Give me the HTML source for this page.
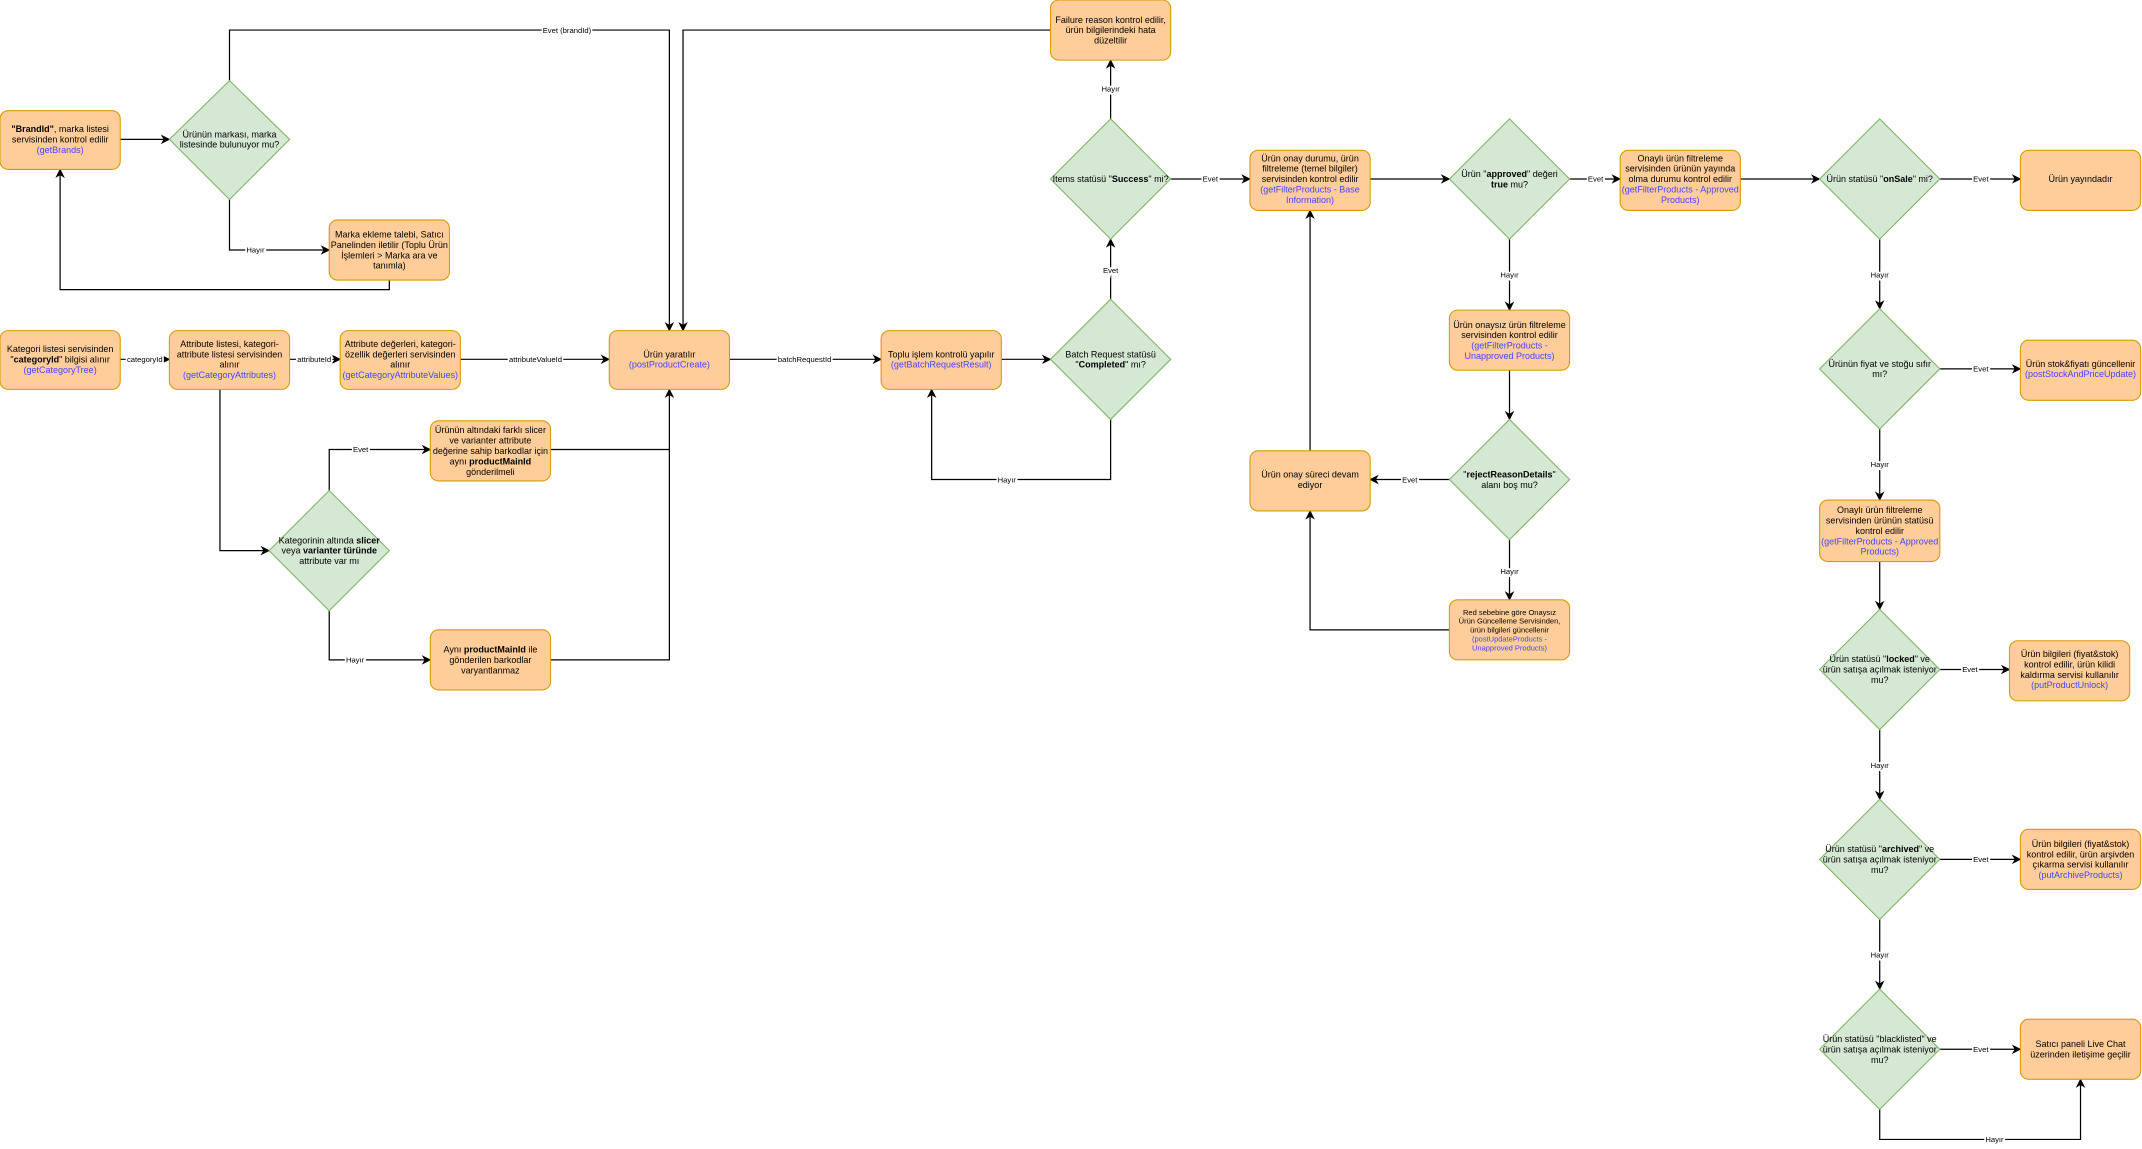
<!DOCTYPE html>
<html><head><meta charset="utf-8"><style>
html,body{margin:0;padding:0;background:#fff;width:2142px;height:1149px;overflow:hidden}
svg{display:block}
text{font-family:"Liberation Sans",sans-serif;font-size:6.6px;fill:#000;text-anchor:middle}
.b{fill:#4444ff}
.lb{font-size:5.6px;stroke:#fff;stroke-width:2.5px;paint-order:stroke}
.box{fill:#ffcd9a;stroke:#d79b00;stroke-width:0.8}
.dia{fill:#d5e8d4;stroke:#82b366;stroke-width:0.8}
.e{fill:none;stroke:#000;stroke-width:0.9;marker-end:url(#a)}
.n{fill:none;stroke:#000;stroke-width:0.9}
.s{font-size:5.5px}
</style></head><body>
<svg width="2142" height="1149" viewBox="0 0 1568 841" preserveAspectRatio="none">
<defs><marker id="a" viewBox="0 0 10 10" refX="9" refY="5" markerWidth="7" markerHeight="7" orient="auto" markerUnits="userSpaceOnUse"><path d="M0,0 L10,5 L0,10 L3,5 z" fill="#000"/></marker></defs>

<!-- edges -->
<path class="e" d="M88,102 H124"/>
<path class="e" d="M168,59 V22 H490 V242"/>
<path class="e" d="M769,22 H500 V242"/>
<path class="e" d="M168,146 V183 H241"/>
<path class="e" d="M285,205 V212 H44 V124"/>
<path class="e" d="M88,263 H124"/>
<path class="e" d="M212,263 H249"/>
<path class="e" d="M337,263 H446"/>
<path class="e" d="M161,285 V403 H197"/>
<path class="e" d="M241,359 V329 H315"/>
<path class="e" d="M241,447 V483 H315"/>
<path class="n" d="M403,329 H490"/>
<path class="e" d="M403,483 H490 V285"/>
<path class="e" d="M534,263 H645"/>
<path class="e" d="M733,263 H769"/>
<path class="e" d="M813,307 V351 H682 V285"/>
<path class="e" d="M813,219 V175"/>
<path class="e" d="M813,87 V44"/>
<path class="e" d="M857,131 H915"/>
<path class="e" d="M1003,131 H1061"/>
<path class="e" d="M1149,131 H1186"/>
<path class="e" d="M1274,131 H1332"/>
<path class="e" d="M1420,131 H1479"/>
<path class="e" d="M1105,175 V227"/>
<path class="e" d="M1105,271 V307"/>
<path class="e" d="M1061,351 H1003"/>
<path class="e" d="M1105,395 V439"/>
<path class="e" d="M1061,461 H959 V374"/>
<path class="e" d="M959,330 V154"/>
<path class="e" d="M1376,175 V226"/>
<path class="e" d="M1420,270 H1479"/>
<path class="e" d="M1376,314 V366"/>
<path class="e" d="M1376,411 V446"/>
<path class="e" d="M1420,490 H1471"/>
<path class="e" d="M1376,534 V585"/>
<path class="e" d="M1420,629 H1479"/>
<path class="e" d="M1376,673 V724"/>
<path class="e" d="M1420,768 H1479"/>
<path class="e" d="M1376,812 V834 H1523 V790"/>

<!-- edge labels -->
<text class="lb" x="415" y="24">Evet  (brandId)</text>
<text class="lb" x="187" y="185">Hayır</text>
<text class="lb" x="106" y="265">categoryId</text>
<text class="lb" x="230" y="265">attributeId</text>
<text class="lb" x="392" y="265">attributeValueId</text>
<text class="lb" x="264" y="331">Evet</text>
<text class="lb" x="260" y="485">Hayır</text>
<text class="lb" x="589" y="265">batchRequestId</text>
<text class="lb" x="737" y="353">Hayır</text>
<text class="lb" x="813" y="200">Evet</text>
<text class="lb" x="813" y="67">Hayır</text>
<text class="lb" x="886" y="133">Evet</text>
<text class="lb" x="1168" y="133">Evet</text>
<text class="lb" x="1450" y="133">Evet</text>
<text class="lb" x="1105" y="203">Hayır</text>
<text class="lb" x="1032" y="353">Evet</text>
<text class="lb" x="1105" y="420">Hayır</text>
<text class="lb" x="1376" y="203">Hayır</text>
<text class="lb" x="1450" y="272">Evet</text>
<text class="lb" x="1376" y="342">Hayır</text>
<text class="lb" x="1442" y="492">Evet</text>
<text class="lb" x="1376" y="562">Hayır</text>
<text class="lb" x="1450" y="631">Evet</text>
<text class="lb" x="1376" y="701">Hayır</text>
<text class="lb" x="1450" y="770">Evet</text>
<text class="lb" x="1460" y="836">Hayır</text>

<!-- boxes -->
<rect class="box" x="0" y="81" width="88" height="43" rx="6"/>
<rect class="box" x="241" y="161" width="88" height="44" rx="6"/>
<rect class="box" x="0" y="242" width="88" height="43" rx="6"/>
<rect class="box" x="124" y="242" width="88" height="43" rx="6"/>
<rect class="box" x="249" y="242" width="88" height="43" rx="6"/>
<rect class="box" x="446" y="242" width="88" height="43" rx="6"/>
<rect class="box" x="315" y="308" width="88" height="44" rx="6"/>
<rect class="box" x="315" y="461" width="88" height="44" rx="6"/>
<rect class="box" x="645" y="242" width="88" height="43" rx="6"/>
<rect class="box" x="769" y="0" width="88" height="44" rx="6"/>
<rect class="box" x="915" y="110" width="88" height="44" rx="6"/>
<rect class="box" x="1186" y="110" width="88" height="44" rx="6"/>
<rect class="box" x="1479" y="110" width="88" height="44" rx="6"/>
<rect class="box" x="1061" y="227" width="88" height="44" rx="6"/>
<rect class="box" x="915" y="330" width="88" height="44" rx="6"/>
<rect class="box" x="1061" y="439" width="88" height="44" rx="6"/>
<rect class="box" x="1479" y="249" width="88" height="44" rx="6"/>
<rect class="box" x="1332" y="366" width="88" height="45" rx="6"/>
<rect class="box" x="1471" y="469" width="88" height="44" rx="6"/>
<rect class="box" x="1479" y="607" width="88" height="44" rx="6"/>
<rect class="box" x="1479" y="746" width="88" height="44" rx="6"/>

<!-- diamonds -->
<polygon class="dia" points="168,59 212,102 168,146 124,102"/>
<polygon class="dia" points="241,359 285,403 241,447 197,403"/>
<polygon class="dia" points="813,219 857,263 813,307 769,263"/>
<polygon class="dia" points="813,87 857,131 813,175 769,131"/>
<polygon class="dia" points="1105,87 1149,131 1105,175 1061,131"/>
<polygon class="dia" points="1376,87 1420,131 1376,175 1332,131"/>
<polygon class="dia" points="1105,307 1149,351 1105,395 1061,351"/>
<polygon class="dia" points="1376,226 1420,270 1376,314 1332,270"/>
<polygon class="dia" points="1376,446 1420,490 1376,534 1332,490"/>
<polygon class="dia" points="1376,585 1420,629 1376,673 1332,629"/>
<polygon class="dia" points="1376,724 1420,768 1376,812 1332,768"/>

<!-- node text -->
<text x="44" y="96.7"><tspan font-weight="bold">"BrandId"</tspan>, marka listesi</text>
<text x="44" y="104.3">servisinden kontrol edilir</text>
<text x="44" y="111.9" class="b">(getBrands)</text>

<text x="168" y="100.5">Ürünün markası, marka</text>
<text x="168" y="108.1">listesinde bulunuyor mu?</text>

<text x="285" y="173.9">Marka ekleme talebi, Satıcı</text>
<text x="285" y="181.5">Panelinden iletilir (Toplu Ürün</text>
<text x="285" y="189.1">İşlemleri &gt; Marka ara ve</text>
<text x="285" y="196.7">tanımla)</text>

<text x="44" y="257.7">Kategori listesi servisinden</text>
<text x="44" y="265.3">"<tspan font-weight="bold">categoryId</tspan>" bilgisi alınır</text>
<text x="44" y="272.9" class="b">(getCategoryTree)</text>

<text x="168" y="253.9">Attribute listesi, kategori-</text>
<text x="168" y="261.5">attribute listesi servisinden</text>
<text x="168" y="269.1">alınır</text>
<text x="168" y="276.7" class="b">(getCategoryAttributes)</text>

<text x="293" y="253.9">Attribute değerleri, kategori-</text>
<text x="293" y="261.5">özellik değerleri servisinden</text>
<text x="293" y="269.1">alınır</text>
<text x="293" y="276.7" class="b">(getCategoryAttributeValues)</text>

<text x="490" y="261.5">Ürün yaratılır</text>
<text x="490" y="269.1" class="b">(postProductCreate)</text>

<text x="359" y="317.1">Ürünün altındaki farklı slicer</text>
<text x="359" y="324.7">ve varianter attribute</text>
<text x="359" y="332.3">değerine sahip barkodlar için</text>
<text x="359" y="339.9">aynı <tspan font-weight="bold">productMainId</tspan></text>
<text x="359" y="347.5">gönderilmeli</text>

<text x="241" y="397.7">Kategorinin altında <tspan font-weight="bold">slicer</tspan></text>
<text x="241" y="405.3">veya <tspan font-weight="bold">varianter türünde</tspan></text>
<text x="241" y="412.9">attribute var mı</text>

<text x="359" y="477.7">Aynı <tspan font-weight="bold">productMainId</tspan> ile</text>
<text x="359" y="485.3">gönderilen barkodlar</text>
<text x="359" y="492.9">varyantlanmaz</text>

<text x="689" y="261.5">Toplu işlem kontrolü yapılır</text>
<text x="689" y="269.1" class="b">(getBatchRequestResult)</text>

<text x="813" y="261.5">Batch Request statüsü</text>
<text x="813" y="269.1">"<tspan font-weight="bold">Completed</tspan>" mı?</text>

<text x="813" y="133.3">Items statüsü "<tspan font-weight="bold">Success</tspan>" mi?</text>

<text x="813" y="16.7">Failure reason kontrol edilir,</text>
<text x="813" y="24.3">ürün bilgilerindeki hata</text>
<text x="813" y="31.9">düzeltilir</text>

<text x="959" y="118.1">Ürün onay durumu, ürün</text>
<text x="959" y="125.7">filtreleme (temel bilgiler)</text>
<text x="959" y="133.3">servisinden kontrol edilir</text>
<text x="959" y="140.9" class="b">(getFilterProducts - Base</text>
<text x="959" y="148.5" class="b">Information)</text>

<text x="1105" y="129.5">Ürün "<tspan font-weight="bold">approved</tspan>" değeri</text>
<text x="1105" y="137.1"><tspan font-weight="bold">true</tspan> mu?</text>

<text x="1230" y="118.1">Onaylı ürün filtreleme</text>
<text x="1230" y="125.7">servisinden ürünün yayında</text>
<text x="1230" y="133.3">olma durumu kontrol edilir</text>
<text x="1230" y="140.9" class="b">(getFilterProducts - Approved</text>
<text x="1230" y="148.5" class="b">Products)</text>

<text x="1376" y="133.3">Ürün statüsü "<tspan font-weight="bold">onSale</tspan>" mi?</text>

<text x="1523" y="133.3">Ürün yayındadır</text>

<text x="1105" y="239.9">Ürün onaysız ürün filtreleme</text>
<text x="1105" y="247.5">servisinden kontrol edilir</text>
<text x="1105" y="255.1" class="b">(getFilterProducts -</text>
<text x="1105" y="262.7" class="b">Unapproved Products)</text>

<text x="1105" y="349.5">"<tspan font-weight="bold">rejectReasonDetails</tspan>"</text>
<text x="1105" y="357.1">alanı boş mu?</text>

<text x="959" y="349.5">Ürün onay süreci devam</text>
<text x="959" y="357.1">ediyor</text>

<text class="s" x="1105" y="450">Red sebebine göre Onaysız</text>
<text class="s" x="1105" y="456.5">Ürün Güncelleme Servisinden,</text>
<text class="s" x="1105" y="463">ürün bilgileri güncellenir</text>
<text class="s b" x="1105" y="469.5">(postUpdateProducts -</text>
<text class="s b" x="1105" y="476">Unapproved Products)</text>

<text x="1376" y="268.5">Ürünün fiyat ve stoğu sıfır</text>
<text x="1376" y="276.1">mı?</text>

<text x="1523" y="268.5">Ürün stok&amp;fiyatı güncellenir</text>
<text x="1523" y="276.1" class="b">(postStockAndPriceUpdate)</text>

<text x="1376" y="375.6">Onaylı ürün filtreleme</text>
<text x="1376" y="383.2">servisinden ürünün statüsü</text>
<text x="1376" y="390.8">kontrol edilir</text>
<text x="1376" y="398.4" class="b">(getFilterProducts - Approved</text>
<text x="1376" y="406" class="b">Products)</text>

<text x="1376" y="484.7">Ürün statüsü "<tspan font-weight="bold">locked</tspan>" ve</text>
<text x="1376" y="492.3">ürün satışa açılmak isteniyor</text>
<text x="1376" y="499.9">mu?</text>

<text x="1515" y="480.9">Ürün bilgileri (fiyat&amp;stok)</text>
<text x="1515" y="488.5">kontrol edilir, ürün kilidi</text>
<text x="1515" y="496.1">kaldırma servisi kullanılır</text>
<text x="1515" y="503.7" class="b">(putProductUnlock)</text>

<text x="1376" y="623.7">Ürün statüsü "<tspan font-weight="bold">archived</tspan>" ve</text>
<text x="1376" y="631.3">ürün satışa açılmak isteniyor</text>
<text x="1376" y="638.9">mu?</text>

<text x="1523" y="619.9">Ürün bilgileri (fiyat&amp;stok)</text>
<text x="1523" y="627.5">kontrol edilir, ürün arşivden</text>
<text x="1523" y="635.1">çıkarma servisi kullanılır</text>
<text x="1523" y="642.7" class="b">(putArchiveProducts)</text>

<text x="1376" y="762.7">Ürün statüsü "blacklisted" ve</text>
<text x="1376" y="770.3">ürün satışa açılmak isteniyor</text>
<text x="1376" y="777.9">mu?</text>

<text x="1523" y="766.5">Satıcı paneli Live Chat</text>
<text x="1523" y="774.1">üzerinden iletişime geçilir</text>
</svg>
</body></html>
